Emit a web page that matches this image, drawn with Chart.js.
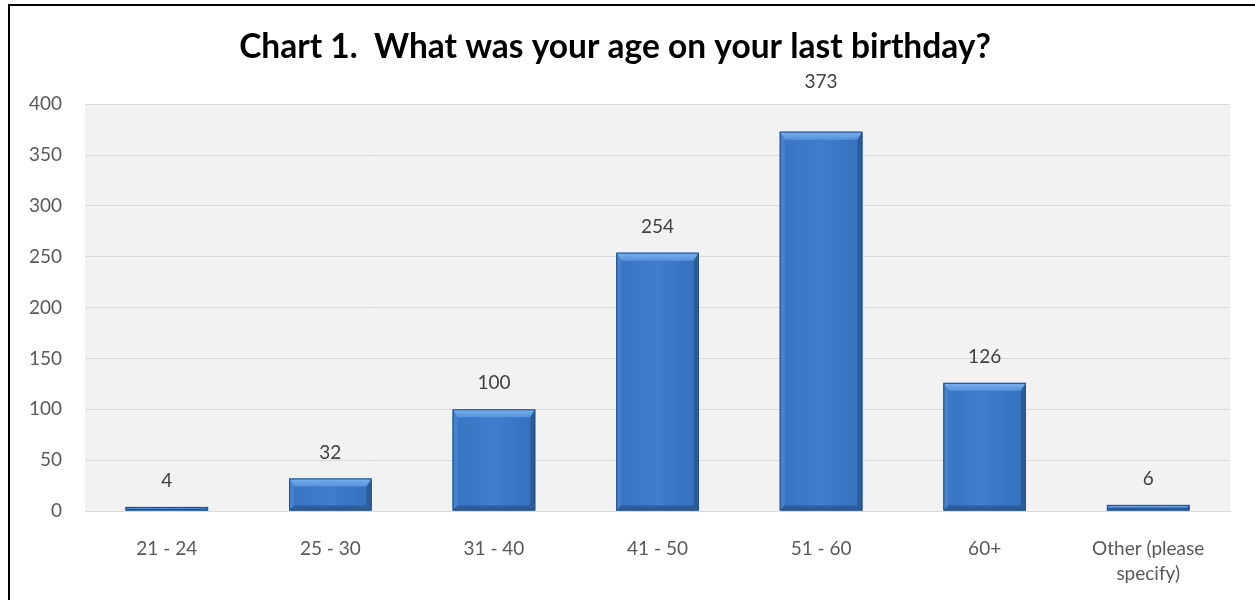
<!DOCTYPE html>
<html>
<head>
<meta charset="utf-8">
<script src="https://cdn.jsdelivr.net/npm/chart.js@4.4.0/dist/chart.umd.min.js"></script>
<style>
    html, body { margin: 0; padding: 0; background: #fff; }
    #wrap { position: relative; width: 1255px; height: 600px; overflow: hidden; }
    #chart { position: absolute; left: 0; top: 0; }
    .frame { position: absolute; left: 8px; top: 4px; right: -10px; bottom: -10px;
             border-top: 2px solid #000; border-left: 2px solid #000; pointer-events: none; }
</style>
</head>
<body>
<div id="wrap">
    <canvas id="chart" width="1255" height="600"></canvas>
    <div class="frame"></div>
</div>
<script>
// Chart data
const categories = ['21 - 24', '25 - 30', '31 - 40', '41 - 50', '51 - 60', '60+', ['Other (please', 'specify)']];
const counts = [4, 32, 100, 254, 373, 126, 6];
const yTicks = [0, 50, 100, 150, 200, 250, 300, 350, 400];

const fontFamily = "Lato, 'Open Sans', sans-serif";
const textGray = '#595959';

// Gray plot background
const plotBackground = {
    id: 'plotBackground',
    beforeDraw(chart) {
        const { ctx, chartArea: a } = chart;
        ctx.save();
        ctx.fillStyle = '#f2f2f2';
        ctx.fillRect(a.left, a.top, a.right - a.left, a.bottom - a.top);
        ctx.restore();
    }
};

// Bevel look on the bars, drawn from the bar elements
const bevelBars = {
    id: 'bevelBars',
    afterDatasetsDraw(chart) {
        const { ctx } = chart;
        chart.getDatasetMeta(0).data.forEach(bar => {
            const l = bar.x - bar.width / 2, r = bar.x + bar.width / 2;
            const t = bar.y, b = bar.base;
            const h = b - t;
            const st = Math.min(8, h / 2);
            const ss = Math.min(5, h / 2);
            const poly = (pts, color) => {
                ctx.beginPath();
                ctx.moveTo(pts[0][0], pts[0][1]);
                pts.slice(1).forEach(p => ctx.lineTo(p[0], p[1]));
                ctx.closePath();
                ctx.fillStyle = color;
                ctx.fill();
            };
            ctx.save();
            // body gradient: darker toward the edges
            const g = ctx.createLinearGradient(l, 0, r, 0);
            g.addColorStop(0, '#3a74c2');
            g.addColorStop(0.5, '#3f7dcd');
            g.addColorStop(1, '#3670bd');
            ctx.fillStyle = g;
            ctx.fillRect(l, t, r - l, h);
            const gt = ctx.createLinearGradient(0, t, 0, t + st);
            gt.addColorStop(0, '#7ab3f0');
            gt.addColorStop(1, '#5792dc');
            poly([[l, t], [r, t], [r - ss, t + st], [l + ss, t + st]], gt);
            poly([[l, t], [l + ss, t + st], [l + ss, b - ss], [l, b]], '#4682cf');
            poly([[r, t], [r - ss, t + st], [r - ss, b - ss], [r, b]], '#2c5d9b');
            poly([[l, b], [l + ss, b - ss], [r - ss, b - ss], [r, b]], '#2d5d9a');
            ctx.strokeStyle = '#234f86';
            ctx.lineWidth = 1;
            ctx.strokeRect(l + 0.5, t + 0.5, r - l - 1, Math.max(h - 1, 0));
            ctx.restore();
        });
    }
};

// Value labels above each bar (the tallest one sits a bit higher, as in the original)
const valueLabels = {
    id: 'valueLabels',
    afterDatasetsDraw(chart) {
        const { ctx } = chart;
        const nudge = { 4: -24 };
        ctx.save();
        ctx.font = '19px ' + fontFamily;
        ctx.fillStyle = '#404040';
        ctx.textAlign = 'center';
        ctx.textBaseline = 'middle';
        chart.getDatasetMeta(0).data.forEach((bar, i) => {
            ctx.fillText(String(counts[i]), bar.x, bar.y - 26 + (nudge[i] || 0));
        });
        ctx.restore();
    }
};

new Chart(document.getElementById('chart'), {
    type: 'bar',
    data: {
        labels: categories,
        datasets: [{
            data: counts,
            backgroundColor: 'rgba(0,0,0,0)',
            borderWidth: 0,
            barPercentage: 0.505,
            categoryPercentage: 1
        }]
    },
    options: {
        responsive: false,
        animation: false,
        layout: { padding: { left: 0, right: 25, top: 0, bottom: 0 } },
        plugins: {
            legend: { display: false },
            tooltip: { enabled: false },
            title: {
                display: true,
                text: 'Chart 1.  What was your age on your last birthday?',
                color: '#000',
                font: { family: fontFamily, size: 33.5, weight: 'bold', lineHeight: 1.2 },
                padding: { top: 27, bottom: 37 }
            }
        },
        scales: {
            y: {
                min: 0,
                max: 400,
                afterBuildTicks: scale => { scale.ticks = yTicks.map(v => ({ value: v })); },
                afterFit: scale => { scale.width = 85; },
                border: { display: false },
                grid: { color: '#d9d9d9', lineWidth: 1, drawTicks: false },
                ticks: { color: textGray, font: { family: fontFamily, size: 19 }, padding: 23 }
            },
            x: {
                afterFit: scale => { scale.height = 89; },
                border: { color: '#d9d9d9' },
                grid: { display: false, drawTicks: false },
                ticks: { color: textGray, font: { family: fontFamily, size: 19, lineHeight: 1.3 }, padding: 26, maxRotation: 0 }
            }
        }
    },
    plugins: [plotBackground, bevelBars, valueLabels]
});
</script>
</body>
</html>
